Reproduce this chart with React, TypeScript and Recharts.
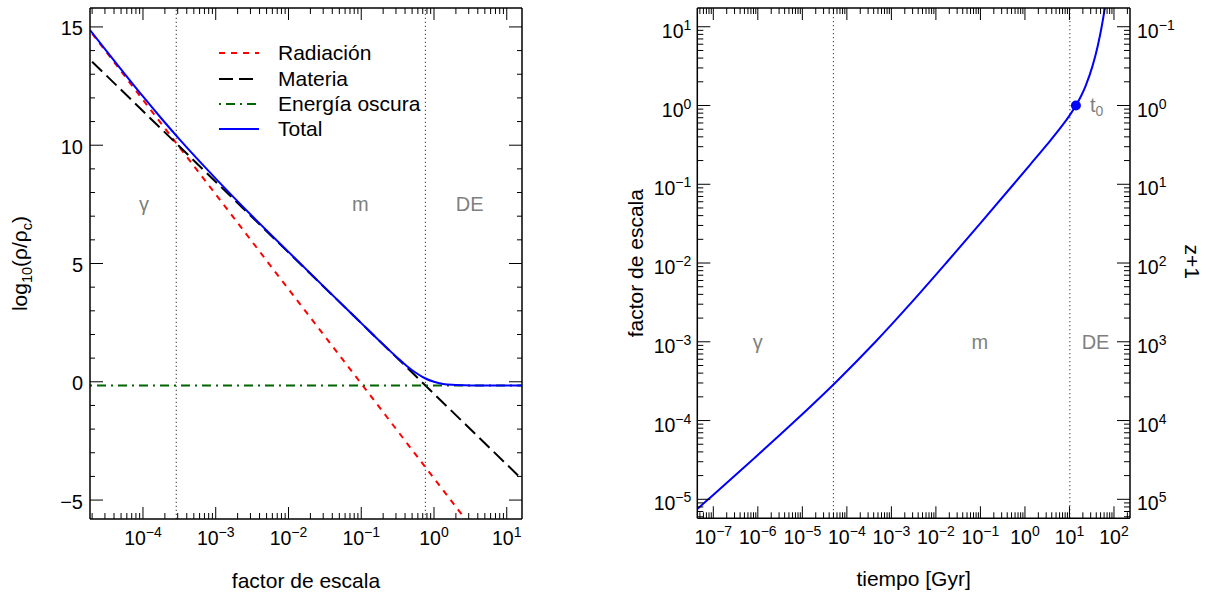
import {
  Legend,
  Line,
  LineChart,
  ReferenceDot,
  ReferenceLine,
  XAxis,
  YAxis,
} from "recharts"

const FONT = '"Liberation Sans", Arial, Helvetica, sans-serif'
const RED = "#ff0000"
const BLUE = "#0000ff"
const GREEN = "#006400"
const GREY = "#7f7f7f"
const MINUS = "\u2212"

// ---- left panel: log10(rho/rho_c) against the scale factor a
const aDomain: [number, number] = [1.87e-5, 16.2]
const rhoDomain: [number, number] = [-5.8, 15.8]

const radA = [1e-5, 10]
const radRho = [15.92, -8.08]
const matA = [2.0e-5, 14.3]
const matRho = [13.53, -3.96]
const deA = [1.87e-5, 16.2]
const deRho = [-0.16, -0.16]
const totA = [
  1.87e-5, 3.16e-5, 1e-4, 1.78e-4, 3.16e-4, 5.62e-4, 1e-3, 3.16e-3, 1e-2,
  3.16e-2, 0.1, 0.178, 0.316, 0.422, 0.562, 0.75, 1, 1.33, 1.78, 3.16, 5.62,
  16.2,
]
const totRho = [
  14.87, 13.98, 12.06, 11.14, 10.26, 9.41, 8.59, 7.01, 5.49, 3.98, 2.48, 1.73,
  1.01, 0.67, 0.38, 0.15, 0.0, -0.09, -0.13, -0.155, -0.16, -0.16,
]
const aEquality = [2.87e-4, 0.762] // radiation = matter, matter = dark energy
const eraNames = ["γ", "m", "DE"]
const eraA = [1.03e-4, 0.097, 3.1]
const eraRho = 7.23
const rhoTicks = [-5, -4, -3, -2, -1, 0, 1, 2, 3, 4, 5, 6, 7, 8, 9, 10, 11, 12, 13, 14, 15]
const seriesNames = ["Radiación", "Materia", "Energía oscura", "Total"]

// ---- right panel: scale factor against cosmic time
const tDomain: [number, number] = [4.37e-8, 229]
const scaleDomain: [number, number] = [5.74e-6, 17.3]
const timeGyr = [
  3.07e-8, 7.69e-8, 7.51e-7, 7.02e-6, 5.96e-5, 4.4e-4, 2.84e-3, 1.7e-2,
  9.82e-2, 0.556, 1.315, 3.09, 6.98, 10.09, 13.95, 18.36, 23.1, 32.9, 42.9,
  52.9, 62.9,
]
const scaleA = [
  6.31e-6, 1e-5, 3.16e-5, 1e-4, 3.16e-4, 1e-3, 3.16e-3, 1e-2, 3.16e-2, 0.1,
  0.178, 0.316, 0.562, 0.75, 1, 1.33, 1.78, 3.16, 5.62, 10, 17.8,
]
const tEquality = [5.0e-5, 10.2]
const eraT = [1.0e-6, 0.0975, 38.6]
const eraScale = 8.1e-4
const t0 = 13.95
const a0 = 1

const zip = (xs: number[], ys: number[]) => xs.map((x, i) => ({ x, y: ys[i] }))

const logTicks = (lo: number, hi: number) => {
  const out: number[] = []
  for (let e = Math.floor(Math.log10(lo)); e <= Math.ceil(Math.log10(hi)); e++) {
    for (let m = 1; m <= 9; m++) {
      const v = m * Math.pow(10, e)
      if (v >= lo && v <= hi) out.push(v)
    }
  }
  return out
}
const aTicks = logTicks(aDomain[0], aDomain[1])
const tTicks = logTicks(tDomain[0], tDomain[1])
const scaleTicks = logTicks(scaleDomain[0], scaleDomain[1])

const decade = (v: number) => Math.round(Math.log10(v))
const isDecade = (v: number) => Math.abs(v / Math.pow(10, decade(v)) - 1) < 1e-6
const expText = (e: number) => (e < 0 ? MINUS + String(-e) : String(e))

const AXIS = { stroke: "#000", strokeWidth: 1.5 }

function Pow({ x, y, e, anchor }: { x: number; y: number; e: number; anchor: string }) {
  return (
    <text x={x} y={y} textAnchor={anchor} fontFamily={FONT} fontSize={19.5} fill="#000">
      10
      <tspan dy={-8} fontSize={14}>
        {expText(e)}
      </tspan>
    </text>
  )
}

// all ticks point into the plot box
const bottomLogTick = (p: any) => {
  const v = p.payload.value
  const major = isDecade(v)
  return (
    <g>
      <line x1={p.x} x2={p.x} y1={p.y} y2={p.y - (major ? 12 : 6)} stroke="#000" />
      {major && <Pow x={p.x} y={p.y + 25.5} e={decade(v)} anchor="middle" />}
    </g>
  )
}
const topLogTick = (p: any) => {
  const major = isDecade(p.payload.value)
  return <line x1={p.x} x2={p.x} y1={p.y} y2={p.y + (major ? 12 : 6)} stroke="#000" />
}
const leftLinTick = (p: any) => {
  const v = p.payload.value
  const major = v % 5 === 0
  return (
    <g>
      <line x1={p.x} x2={p.x + (major ? 13 : 5)} y1={p.y} y2={p.y} stroke="#000" />
      {major && (
        <text x={p.x - 7} y={p.y + 8.5} textAnchor="end" fontFamily={FONT} fontSize={20}>
          {v < 0 ? MINUS + String(-v) : String(v)}
        </text>
      )}
    </g>
  )
}
const rightLinTick = (p: any) => {
  const major = p.payload.value % 5 === 0
  return <line x1={p.x} x2={p.x - (major ? 13 : 5)} y1={p.y} y2={p.y} stroke="#000" />
}
const leftLogTick = (p: any) => {
  const v = p.payload.value
  const major = isDecade(v)
  return (
    <g>
      <line x1={p.x} x2={p.x + (major ? 13 : 6)} y1={p.y} y2={p.y} stroke="#000" />
      {major && <Pow x={p.x - 6} y={p.y + 11} e={decade(v)} anchor="end" />}
    </g>
  )
}
// z+1 = 1/a on the right-hand axis
const rightZTick = (p: any) => {
  const v = p.payload.value
  const major = isDecade(v)
  return (
    <g>
      <line x1={p.x} x2={p.x - (major ? 13 : 6)} y1={p.y} y2={p.y} stroke="#000" />
      {major && <Pow x={p.x + 7} y={p.y + 11} e={-decade(v)} anchor="start" />}
    </g>
  )
}

const eraLabel = (text: string, fill = GREY) => (p: any) => {
  const vb = p.viewBox
  return (
    <text
      x={vb.x + vb.width / 2}
      y={vb.y + vb.height / 2}
      textAnchor="middle"
      fontFamily={FONT}
      fontSize={20}
      fill={fill}
    >
      {text}
    </text>
  )
}

const legendStroke = [
  { stroke: RED, dash: "6 6" },
  { stroke: "#000", dash: "14 6" },
  { stroke: GREEN, dash: "2 5 9 5" },
  { stroke: BLUE, dash: undefined },
]

function LegendBox() {
  return (
    <div style={{ fontFamily: FONT, fontSize: 21, color: "#000" }}>
      {seriesNames.map((name, i) => (
        <div key={name} style={{ display: "flex", alignItems: "center", height: 25.3 }}>
          <svg width={40} height={6} style={{ display: "block" }}>
            <line
              x1={0}
              x2={40}
              y1={3}
              y2={3}
              stroke={legendStroke[i].stroke}
              strokeWidth={2}
              strokeDasharray={legendStroke[i].dash}
            />
          </svg>
          <span style={{ marginLeft: 19, whiteSpace: "nowrap" }}>{name}</span>
        </div>
      ))}
    </div>
  )
}

function DensityChart() {
  return (
    <LineChart width={600} height={599} margin={{ top: 0, right: 8, bottom: 40, left: 10 }}>
      <XAxis
        xAxisId="b"
        dataKey="x"
        type="number"
        scale="log"
        domain={aDomain}
        allowDataOverflow
        ticks={aTicks}
        interval={0}
        tick={bottomLogTick}
        tickSize={0}
        tickMargin={0}
        tickLine={false}
        axisLine={AXIS}
        height={40}
        label={() => (
          <text x={306} y={588} textAnchor="middle" fontFamily={FONT} fontSize={21}>
            factor de escala
          </text>
        )}
      />
      <XAxis
        xAxisId="t"
        orientation="top"
        dataKey="x"
        type="number"
        scale="log"
        domain={aDomain}
        allowDataOverflow
        ticks={aTicks}
        interval={0}
        tick={topLogTick}
        tickSize={0}
        tickMargin={0}
        tickLine={false}
        axisLine={AXIS}
        height={8}
      />
      <YAxis
        yAxisId="l"
        type="number"
        domain={rhoDomain}
        allowDataOverflow
        ticks={rhoTicks}
        interval={0}
        tick={leftLinTick}
        tickSize={0}
        tickMargin={0}
        tickLine={false}
        axisLine={AXIS}
        width={80}
        label={() => (
          <text
            transform="translate(27,263.5) rotate(-90)"
            textAnchor="middle"
            fontFamily={FONT}
            fontSize={21}
          >
            log
            <tspan dy={5} fontSize={14.5}>10</tspan>
            <tspan dy={-5}>(ρ/ρ</tspan>
            <tspan dy={5} fontSize={14.5}>c</tspan>
            <tspan dy={-5}>)</tspan>
          </text>
        )}
      />
      <YAxis
        yAxisId="r"
        orientation="right"
        type="number"
        domain={rhoDomain}
        allowDataOverflow
        ticks={rhoTicks}
        interval={0}
        tick={rightLinTick}
        tickSize={0}
        tickMargin={0}
        tickLine={false}
        axisLine={AXIS}
        width={70}
      />
      {aEquality.map((a) => (
        <ReferenceLine
          key={a}
          xAxisId="b"
          yAxisId="l"
          x={a}
          stroke="#555"
          strokeWidth={1.2}
          strokeDasharray="1.2 2.8"
        />
      ))}
      {eraNames.map((name, i) => (
        <ReferenceDot
          key={name}
          xAxisId="b"
          yAxisId="l"
          x={eraA[i]}
          y={eraRho}
          r={0}
          fill="none"
          stroke="none"
          label={eraLabel(name)}
        />
      ))}
      <Line
        xAxisId="b"
        yAxisId="l"
        data={zip(radA, radRho)}
        dataKey="y"
        name={seriesNames[0]}
        type="linear"
        stroke={RED}
        strokeWidth={2}
        strokeDasharray="6 6"
        dot={false}
        activeDot={false}
        isAnimationActive={false}
      />
      <Line
        xAxisId="b"
        yAxisId="l"
        data={zip(matA, matRho)}
        dataKey="y"
        name={seriesNames[1]}
        type="linear"
        stroke="#000"
        strokeWidth={2}
        strokeDasharray="14 6"
        dot={false}
        activeDot={false}
        isAnimationActive={false}
      />
      <Line
        xAxisId="b"
        yAxisId="l"
        data={zip(deA, deRho)}
        dataKey="y"
        name={seriesNames[2]}
        type="linear"
        stroke={GREEN}
        strokeWidth={2}
        strokeDasharray="2 5 9 5"
        dot={false}
        activeDot={false}
        isAnimationActive={false}
      />
      <Line
        xAxisId="b"
        yAxisId="l"
        data={zip(totA, totRho)}
        dataKey="y"
        name={seriesNames[3]}
        type="monotone"
        stroke={BLUE}
        strokeWidth={2}
        dot={false}
        activeDot={false}
        isAnimationActive={false}
      />
      <Legend
        layout="vertical"
        align="center"
        verticalAlign="middle"
        wrapperStyle={{ left: 219, top: 40.7, width: 270, height: "auto" }}
        content={() => <LegendBox />}
      />
    </LineChart>
  )
}

function ExpansionChart() {
  return (
    <LineChart width={610} height={599} margin={{ top: 0, right: 10, bottom: 40, left: 10 }}>
      <XAxis
        xAxisId="b"
        dataKey="x"
        type="number"
        scale="log"
        domain={tDomain}
        allowDataOverflow
        ticks={tTicks}
        interval={0}
        tick={bottomLogTick}
        tickSize={0}
        tickMargin={0}
        tickLine={false}
        axisLine={AXIS}
        height={40.7}
        label={() => (
          <text x={313.6} y={586} textAnchor="middle" fontFamily={FONT} fontSize={21}>
            tiempo [Gyr]
          </text>
        )}
      />
      <XAxis
        xAxisId="t"
        orientation="top"
        dataKey="x"
        type="number"
        scale="log"
        domain={tDomain}
        allowDataOverflow
        ticks={tTicks}
        interval={0}
        tick={topLogTick}
        tickSize={0}
        tickMargin={0}
        tickLine={false}
        axisLine={AXIS}
        height={8}
      />
      <YAxis
        yAxisId="l"
        type="number"
        scale="log"
        domain={scaleDomain}
        allowDataOverflow
        ticks={scaleTicks}
        interval={0}
        tick={leftLogTick}
        tickSize={0}
        tickMargin={0}
        tickLine={false}
        axisLine={AXIS}
        width={87.3}
        label={() => (
          <text
            transform="translate(42.7,263.2) rotate(-90)"
            textAnchor="middle"
            fontFamily={FONT}
            fontSize={21}
          >
            factor de escala
          </text>
        )}
      />
      <YAxis
        yAxisId="r"
        orientation="right"
        type="number"
        scale="log"
        domain={scaleDomain}
        allowDataOverflow
        ticks={scaleTicks}
        interval={0}
        tick={rightZTick}
        tickSize={0}
        tickMargin={0}
        tickLine={false}
        axisLine={AXIS}
        width={70}
        label={() => (
          <text
            transform="translate(585,261.7) rotate(90)"
            textAnchor="middle"
            fontFamily={FONT}
            fontSize={21}
          >
            z+1
          </text>
        )}
      />
      {tEquality.map((t) => (
        <ReferenceLine
          key={t}
          xAxisId="b"
          yAxisId="l"
          x={t}
          stroke="#555"
          strokeWidth={1.2}
          strokeDasharray="1.2 2.8"
        />
      ))}
      {eraNames.map((name, i) => (
        <ReferenceDot
          key={name}
          xAxisId="b"
          yAxisId="l"
          x={eraT[i]}
          y={eraScale}
          r={0}
          fill="none"
          stroke="none"
          label={eraLabel(name)}
        />
      ))}
      <Line
        xAxisId="b"
        yAxisId="l"
        data={zip(timeGyr, scaleA)}
        dataKey="y"
        type="monotone"
        stroke={BLUE}
        strokeWidth={2}
        dot={false}
        activeDot={false}
        isAnimationActive={false}
      />
      <ReferenceDot
        xAxisId="b"
        yAxisId="l"
        x={t0}
        y={a0}
        r={5}
        fill={BLUE}
        stroke="none"
        label={(p: any) => {
          const vb = p.viewBox
          return (
            <text
              x={vb.x + vb.width + 9}
              y={vb.y + vb.height / 2 + 6}
              fontFamily={FONT}
              fontSize={20}
              fill={GREY}
            >
              t
              <tspan dy={4} fontSize={14}>0</tspan>
            </text>
          )
        }}
      />
    </LineChart>
  )
}

export default function App() {
  return (
    <div
      style={{
        position: "absolute",
        left: 0,
        top: 0,
        width: 1210,
        height: 599,
        background: "#fff",
        fontFamily: FONT,
      }}
    >
      <div style={{ position: "absolute", left: 0, top: 0 }}>
        <DensityChart />
      </div>
      <div style={{ position: "absolute", left: 600, top: 0 }}>
        <ExpansionChart />
      </div>
    </div>
  )
}
